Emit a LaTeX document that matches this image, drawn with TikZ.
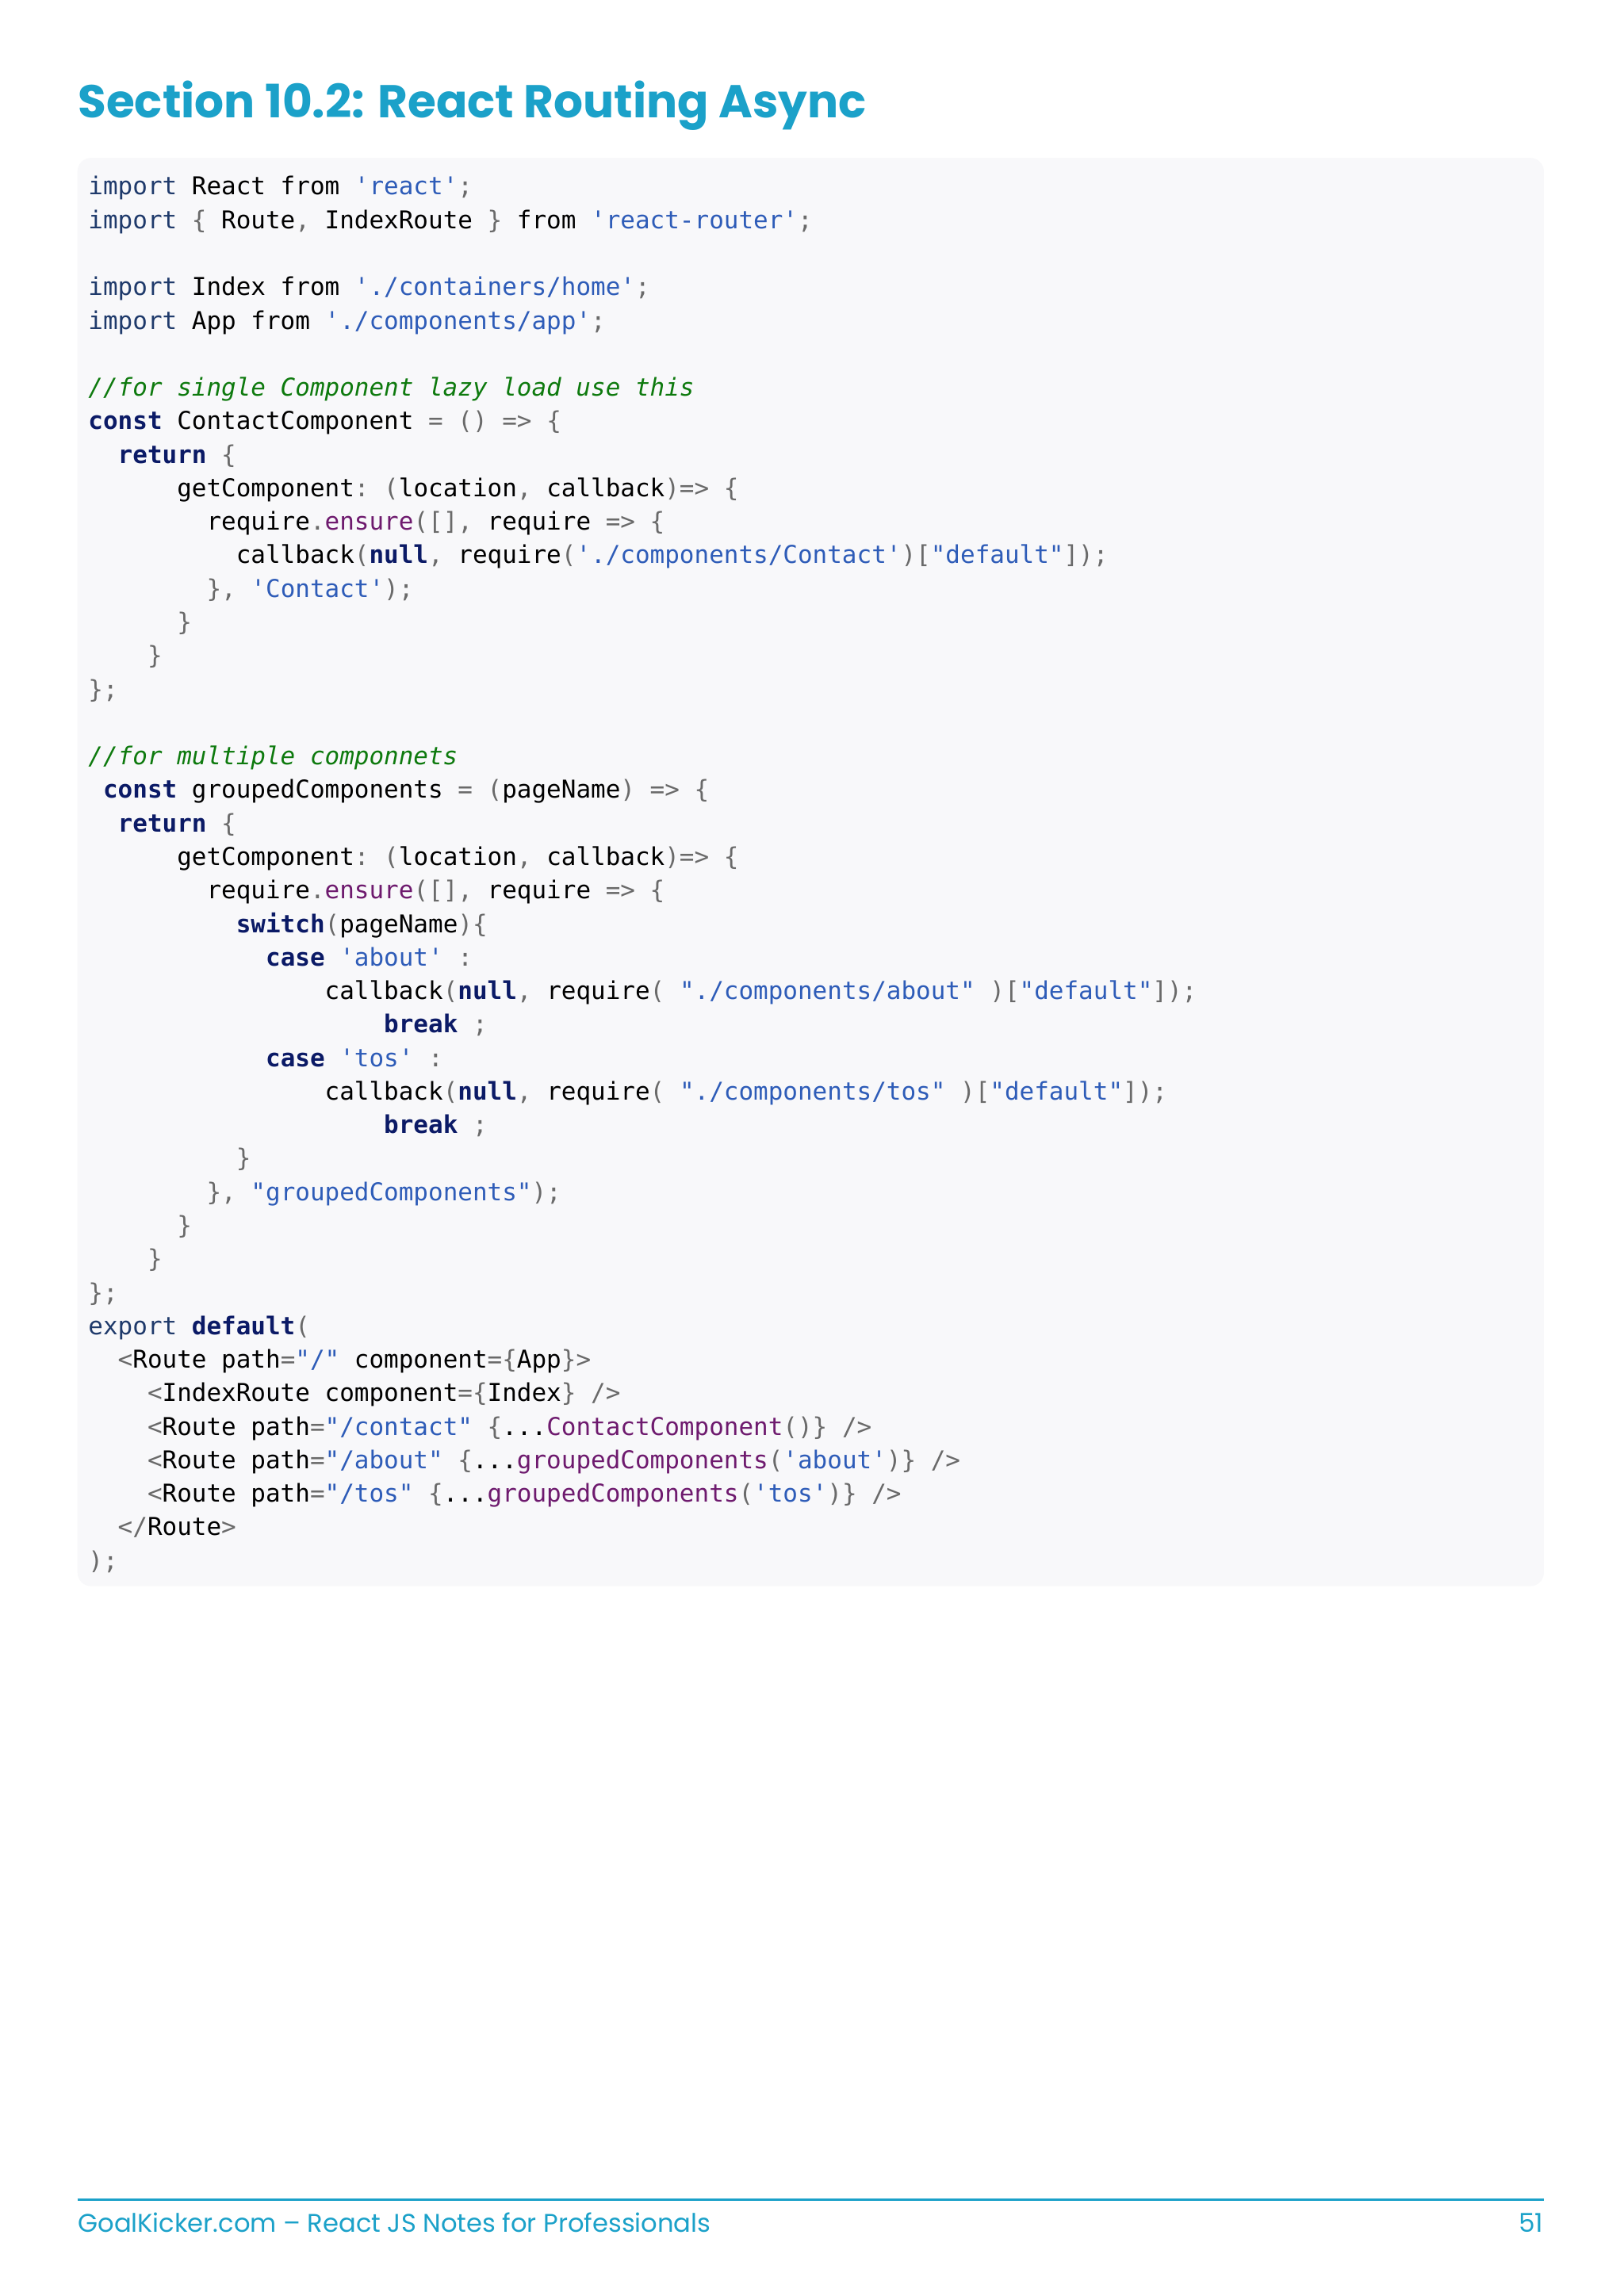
\documentclass[tikz,border=0pt]{standalone}
\usepackage{fontspec}
\setmonofont{DejaVu Sans Mono}
\newfontfamily\titlefont{Poppins}
\usetikzlibrary{positioning}
\definecolor{brand}{HTML}{1BA1C9}
\definecolor{codebg}{HTML}{F8F8FA}
\definecolor{kwc}{HTML}{0B1A66}
\definecolor{imc}{HTML}{1F3A6B}
\definecolor{stc}{HTML}{2E5CB8}
\definecolor{cmc}{HTML}{0E7A0E}
\definecolor{puc}{HTML}{6A6A6A}
\definecolor{fnc}{HTML}{6E1A6E}
\newcommand\cKw[1]{{\bfseries\color{kwc}#1}}
\newcommand\cIm[1]{{\color{imc}#1}}
\newcommand\cSt[1]{{\color{stc}#1}}
\newcommand\cCm[1]{{\itshape\color{cmc}#1}}
\newcommand\cPu[1]{{\color{puc}#1}}
\newcommand\cFn[1]{{\color{fnc}#1}}
\newcommand\cind[1]{\hspace*{#1\fontcharwd\font`0}}
\newcommand\codeline[2]{\node[codetext] (l#1) at (32.2pt,{-71.5pt-(#1-1)*12.29pt}) {#2};}
\begin{document}
\begin{tikzpicture}[x=1pt,y=1pt,
  codetext/.style={anchor=base west,inner sep=0pt,font=\ttfamily\fontsize{9}{11}\selectfont,text=black}]
\useasboundingbox (0,0) rectangle (595.3,-841.9);
\fill[white] (0,0) rectangle (595.3,-841.9);
\node[anchor=base west,inner sep=0pt,text=brand] (title) at (28.4,-43.2)
  {\resizebox{289pt}{!}{\titlefont\bfseries Section 10.2: React Routing Async}};
\fill[codebg,rounded corners=5pt] (28.4,-57.9) rectangle (566,-581.6);
\codeline{1}{\cIm{import} React from \cSt{'react'}\cPu{;}}
\codeline{2}{\cIm{import} \cPu{\{} Route\cPu{,} IndexRoute \cPu{\}} from \cSt{'react-router'}\cPu{;}}
\codeline{4}{\cIm{import} Index from \cSt{'./containers/home'}\cPu{;}}
\codeline{5}{\cIm{import} App from \cSt{'./components/app'}\cPu{;}}
\codeline{7}{\cCm{//for single Component lazy load use this}}
\codeline{8}{\cKw{const} ContactComponent \cPu{=} \cPu{()} \cPu{=>} \cPu{\{}}
\codeline{9}{\cind{2}\cKw{return} \cPu{\{}}
\codeline{10}{\cind{6}getComponent\cPu{:} \cPu{(}location\cPu{,} callback\cPu{)=>} \cPu{\{}}
\codeline{11}{\cind{8}require\cPu{.}\cFn{ensure}\cPu{([],} require \cPu{=>} \cPu{\{}}
\codeline{12}{\cind{10}callback\cPu{(}\cKw{null}\cPu{,} require\cPu{(}\cSt{'./components/Contact'}\cPu{)[}\cSt{"default"}\cPu{]);}}
\codeline{13}{\cind{8}\cPu{\},} \cSt{'Contact'}\cPu{);}}
\codeline{14}{\cind{6}\cPu{\}}}
\codeline{15}{\cind{4}\cPu{\}}}
\codeline{16}{\cPu{\};}}
\codeline{18}{\cCm{//for multiple componnets}}
\codeline{19}{\cind{1}\cKw{const} groupedComponents \cPu{=} \cPu{(}pageName\cPu{)} \cPu{=>} \cPu{\{}}
\codeline{20}{\cind{2}\cKw{return} \cPu{\{}}
\codeline{21}{\cind{6}getComponent\cPu{:} \cPu{(}location\cPu{,} callback\cPu{)=>} \cPu{\{}}
\codeline{22}{\cind{8}require\cPu{.}\cFn{ensure}\cPu{([],} require \cPu{=>} \cPu{\{}}
\codeline{23}{\cind{10}\cKw{switch}\cPu{(}pageName\cPu{)\{}}
\codeline{24}{\cind{12}\cKw{case} \cSt{'about'} \cPu{:}}
\codeline{25}{\cind{16}callback\cPu{(}\cKw{null}\cPu{,} require\cPu{(} \cSt{"./components/about"} \cPu{)[}\cSt{"default"}\cPu{]);}}
\codeline{26}{\cind{20}\cKw{break} \cPu{;}}
\codeline{27}{\cind{12}\cKw{case} \cSt{'tos'} \cPu{:}}
\codeline{28}{\cind{16}callback\cPu{(}\cKw{null}\cPu{,} require\cPu{(} \cSt{"./components/tos"} \cPu{)[}\cSt{"default"}\cPu{]);}}
\codeline{29}{\cind{20}\cKw{break} \cPu{;}}
\codeline{30}{\cind{10}\cPu{\}}}
\codeline{31}{\cind{8}\cPu{\},} \cSt{"groupedComponents"}\cPu{);}}
\codeline{32}{\cind{6}\cPu{\}}}
\codeline{33}{\cind{4}\cPu{\}}}
\codeline{34}{\cPu{\};}}
\codeline{35}{\cIm{export} \cKw{default}\cPu{(}}
\codeline{36}{\cind{2}\cPu{<}Route path\cPu{=}\cSt{"/"} component\cPu{=\{}App\cPu{\}>}}
\codeline{37}{\cind{4}\cPu{<}IndexRoute component\cPu{=\{}Index\cPu{\}} \cPu{/>}}
\codeline{38}{\cind{4}\cPu{<}Route path\cPu{=}\cSt{"/contact"} \cPu{\{}...\cFn{ContactComponent}\cPu{()\}} \cPu{/>}}
\codeline{39}{\cind{4}\cPu{<}Route path\cPu{=}\cSt{"/about"} \cPu{\{}...\cFn{groupedComponents}\cPu{(}\cSt{'about'}\cPu{)\}} \cPu{/>}}
\codeline{40}{\cind{4}\cPu{<}Route path\cPu{=}\cSt{"/tos"} \cPu{\{}...\cFn{groupedComponents}\cPu{(}\cSt{'tos'}\cPu{)\}} \cPu{/>}}
\codeline{41}{\cind{2}\cPu{</}Route\cPu{>}}
\codeline{42}{\cPu{);}}
\coordinate (fl) at (28.4,-806.5);
\coordinate (fr) at (566,-806.5);
\draw[brand,line width=0.8pt] (fl) -- (fr);
\node[anchor=base west,inner sep=0pt,text=brand] (foot) at (28.4,-818.5)
  {\resizebox{232pt}{!}{\titlefont GoalKicker.com – React JS Notes for Professionals}};
\node[anchor=base east,inner sep=0pt,text=brand,font=\titlefont\fontsize{9.5}{11}\selectfont] (page) at (566,-818.5) {51};
\end{tikzpicture}
\end{document}
